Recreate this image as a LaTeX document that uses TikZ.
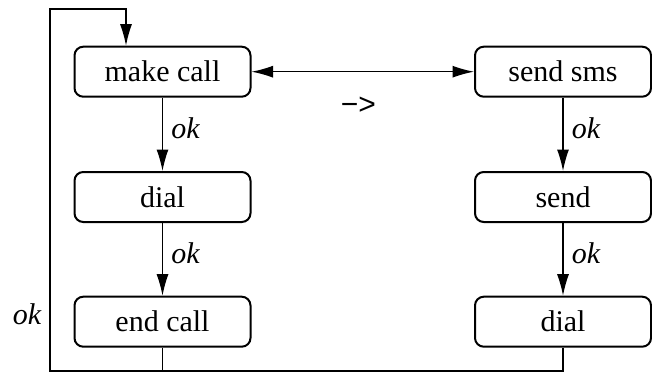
\documentclass[tikz,border=0pt]{standalone}
\usepackage{fontspec}
\setmainfont{Liberation Serif}
\setsansfont{Liberation Sans}
\usetikzlibrary{arrows.meta}
\tikzset{>={Latex[length=8.6pt,width=4.8pt]},
  state/.style={draw, line width=0.8pt, rounded corners=3.5pt,
    minimum width=70.4pt, minimum height=20pt, inner sep=0pt,
    font=\fontsize{12}{14}\selectfont},
  link/.style={line width=0.5pt},
  lbl/.style={font=\fontsize{12}{14}\selectfont\itshape}}

\begin{document}
\begin{tikzpicture}[x=0.4pt, y=-0.4pt]
    \useasboundingbox (0,0) rectangle (652,374);
    % left column: call
    \node[state] (makecall) at (162.5,71.7) {make call};
    \node[state] (dialcall) at (162.5,197) {dial};
    \node[state] (endcall) at (162.5,321.7) {end call};
    % right column: sms
    \node[state] (sendsms) at (563,71.7) {send sms};
    \node[state] (send) at (563,197) {send};
    \node[state] (dialsms) at (563,321.7) {dial};
    \coordinate (bl) at (50,371);
    \coordinate (tl) at (50,9);
    \draw[link,->] (makecall) -- node[lbl,right,pos=0.42] (ok1) {ok} (dialcall);
    \draw[link,->] (dialcall) -- node[lbl,right,pos=0.42] (ok2) {ok} (endcall);
    \draw[link,->] (sendsms) -- node[lbl,right,pos=0.42] (ok3) {ok} (send);
    \draw[link,->] (send) -- node[lbl,right,pos=0.42] (ok4) {ok} (dialsms);
    \draw[link,<->] (makecall) -- node[below=6.5pt,pos=0.48,font=\fontsize{12}{14}\selectfont\sffamily] (arrlbl) {−>} (sendsms);
    % loop back
    \draw[link,->] (endcall.south) |- (bl) -- (tl) -| ([xshift=-14.6pt]makecall.north);
    \draw[link] (dialsms.south) |- (endcall.south |- bl);
    \node[lbl] (okloop) at (27,314) {ok};
\end{tikzpicture}
\end{document}
